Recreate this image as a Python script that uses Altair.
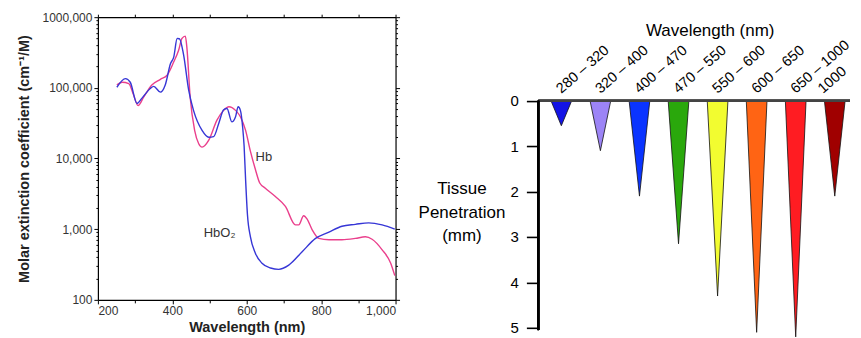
import altair as alt
import pandas as pd

# ---------------- Left panel data: molar extinction coefficient ----------------
hbo2_nm = [251, 274, 287, 305, 318, 341, 350, 368, 381, 395, 404, 413, 419, 430, 444,
           457, 480, 498, 511, 525, 538, 547, 560, 570, 577, 583, 589, 593, 597, 602,
           610, 623, 641, 664, 686, 713, 749, 785, 821, 856, 892, 928, 964, 998]
hbo2_eps = [102000, 135000, 120000, 60000, 71000, 98000, 105000, 87000, 110000, 219000,
            275000, 500000, 495000, 300000, 93000, 48000, 25000, 20000, 20400, 31600,
            49000, 51000, 33000, 39000, 54000, 48000, 28000, 15000, 5000, 1600,
            780, 460, 330, 282, 270, 310, 480, 740, 910, 1100, 1170, 1230, 1150, 1000]

hb_nm = [251, 265, 283, 296, 308, 323, 345, 368, 386, 404, 417, 426, 435, 439, 448,
         460, 471, 480, 498, 520, 538, 552, 570, 583, 597, 610, 623, 635, 650, 677,
         704, 731, 740, 753, 762, 776, 794, 821, 856, 892, 919, 937, 964, 987, 998]
hb_eps = [110000, 120000, 115000, 79000, 56000, 74000, 110000, 132000, 151000, 234000,
          340000, 500000, 540000, 380000, 74000, 25000, 16200, 14500, 18200, 35000,
          48000, 54000, 48000, 39000, 25000, 12600, 7100, 4500, 3800, 2900,
          2100, 1150, 1150, 1550, 1400, 980, 740, 710, 710, 740, 780, 720, 510, 330, 220]

curve_labels = ["Hb", "HbO₂"]
curve_label_nm = [646, 527]
curve_label_eps = [10500, 890]

# ---------------- Right panel data: tissue penetration ----------------
ranges = ["280 – 320", "320 – 400", "400 – 470", "470 – 550",
          "550 – 600", "600 – 650", "650 – 1000", "1000 – 1400"]
depths = [0.55, 1.1, 2.1, 3.15, 4.3, 5.1, 5.2, 2.1]
tri_colors = ["#1414e6", "#9c84f6", "#0a34ff", "#2aa80c",
              "#f2fc30", "#ff6414", "#ff1c22", "#a00000"]
depth_ticks = [0, 1, 2, 3, 4, 5]

FONT = "Liberation Sans"

# ---------------- Left panel ----------------
curves = pd.concat([
    pd.DataFrame({"nm": hb_nm, "eps": hb_eps, "species": "Hb"}),
    pd.DataFrame({"nm": hbo2_nm, "eps": hbo2_eps, "species": "HbO2"}),
])
ann = pd.DataFrame({"label": curve_labels, "nm": curve_label_nm, "eps": curve_label_eps})

xs = alt.Scale(domain=[200, 1000], nice=False, zero=False)
ys = alt.Scale(type="log", domain=[100, 1000000], nice=False)

x_vals = list(range(200, 1001, 100))
y_vals = [m * 10 ** k for k in range(2, 6) for m in range(1, 10)] + [1000000]
is_decade = "abs(log(datum.value)/LN10 - round(log(datum.value)/LN10)) < 1e-6"

ax_common = dict(domainColor="black", tickColor="black", domainWidth=1.2, tickWidth=1,
                 labelFont=FONT, labelFontSize=12, labelColor="#333",
                 titleFont=FONT, titleFontWeight="bold", titleFontSize=14.5, titleColor="#222")

x_axis = alt.Axis(values=x_vals, labelExpr="datum.value % 200 == 0 ? format(datum.value, ',') : ''",
                  tickSize={"condition": {"test": "datum.value % 200 == 0", "value": 4}, "value": 3},
                  labelPadding=2, title="Wavelength (nm)", titlePadding=4, grid=False, **ax_common)
y_axis = alt.Axis(values=y_vals,
                  labelExpr=f"{is_decade} ? (datum.value == 1000000 ? '1000,000' : format(datum.value, ',')) : ''",
                  tickSize={"condition": {"test": is_decade, "value": 4}, "value": 2},
                  labelPadding=2, title="Molar extinction coefficient (cm⁻¹/M)", titlePadding=10,
                  grid=False, **ax_common)
x_axis_top = alt.Axis(orient="top", values=x_vals, labels=False, title=None, grid=False,
                      tickSize=3, domainColor="black", tickColor="black", domainWidth=1.2)
y_axis_right = alt.Axis(orient="right", values=y_vals, labels=False, title=None, grid=False,
                        tickSize={"condition": {"test": is_decade, "value": 4}, "value": 2},
                        domainColor="black", tickColor="black", domainWidth=1.2)

lines = alt.Chart(curves).mark_line(strokeWidth=1.4, interpolate="monotone").encode(
    x=alt.X("nm:Q", scale=xs, axis=x_axis),
    y=alt.Y("eps:Q", scale=ys, axis=y_axis),
    color=alt.Color("species:N", scale=alt.Scale(domain=["Hb", "HbO2"], range=["#ea3f8c", "#3636d6"]),
                    legend=None),
    detail="species:N",
)
frame = alt.Chart(curves).mark_line(opacity=0).encode(
    x=alt.X("nm:Q", scale=xs, axis=x_axis_top),
    y=alt.Y("eps:Q", scale=ys, axis=y_axis_right),
    detail="species:N",
)
labels = alt.Chart(ann).mark_text(font=FONT, fontSize=13, color="#333").encode(
    x=alt.X("nm:Q", scale=xs, axis=None),
    y=alt.Y("eps:Q", scale=ys, axis=None),
    text="label:N",
)
left = alt.layer(lines, frame, labels).resolve_axis(x="independent", y="independent").properties(
    width=298, height=283)

# ---------------- Right panel ----------------
HW = 0.265  # half width of triangle top, in category units
rows = []
for i, (r, d) in enumerate(zip(ranges, depths)):
    rows.append({"range": r, "d": 0.0, "xl": i - HW, "xr": i + HW})
    rows.append({"range": r, "d": d, "xl": float(i), "xr": float(i)})
tri_df = pd.DataFrame(rows)
lab_df = pd.DataFrame({"range": ranges, "idx": list(range(len(ranges)))})

W_R, H_R = 312, 311
X0, X1 = -0.588, 7.39
xr = alt.Scale(domain=[X0, X1], nice=False, zero=False)
yr = alt.Scale(domain=[-1.84, 5.0], nice=False, zero=False, reverse=True)

y_axis_r = alt.Axis(values=depth_ticks, domain=False, tickSize=12, tickWidth=1.6, tickColor="black",
                    labelFont=FONT, labelFontSize=15, labelColor="black", labelPadding=8, grid=False,
                    title=["Tissue", "Penetration", "(mm)"], titleAngle=0, titleAlign="center",
                    titleBaseline="middle", titleX=-77, titleY=172, titleFont=FONT, titleFontSize=17,
                    titleFontWeight="normal", titleColor="black", titleLineHeight=23.5)

tri = alt.Chart(tri_df).mark_area(orient="horizontal", stroke="#111", strokeWidth=0.8).encode(
    y=alt.Y("d:Q", scale=yr, axis=y_axis_r),
    x=alt.X("xl:Q", scale=xr, axis=None),
    x2="xr:Q",
    fill=alt.Fill("range:N", scale=alt.Scale(domain=ranges, range=tri_colors), legend=None),
    detail="range:N",
)
vline = alt.Chart(lab_df).mark_rule(color="black", strokeWidth=1.8).encode(
    x=alt.value(0),
    y=alt.Y(datum=0, scale=yr),
    y2=alt.Y2(datum=5.05),
)
hline = alt.Chart(lab_df).mark_rule(color="#444", strokeWidth=2).encode(
    x=alt.value(0), x2=alt.value(W_R),
    y=alt.Y(datum=0, scale=yr),
)
head = alt.Chart(lab_df).transform_filter("datum.idx < 7").transform_calculate(
    lx="datum.idx + 0.05").mark_text(font=FONT, fontSize=14.5, angle=319, align="left",
                                     baseline="bottom", color="black").encode(
    x=alt.X("lx:Q", scale=xr, axis=None),
    y=alt.Y(datum=-0.1, scale=yr),
    text="range:N",
)
head_last = alt.Chart(lab_df).transform_filter("datum.idx >= 7").transform_calculate(
    lx="datum.idx - 0.25").mark_text(font=FONT, fontSize=14.5, angle=319, align="left",
                                     baseline="bottom", color="black", limit=33,
                                     ellipsis="\u200b").encode(
    x=alt.X("lx:Q", scale=xr, axis=None),
    y=alt.Y(datum=-0.1, scale=yr),
    text="range:N",
)
wl_title = alt.Chart(pd.DataFrame({"t": ["Wavelength (nm)"]})).mark_text(
    font=FONT, fontSize=17, color="black", baseline="middle").encode(
    x=alt.value(172), y=alt.value(14), text="t:N")

right = alt.layer(tri, hline, vline, head, head_last, wl_title).properties(width=W_R, height=H_R)

chart = alt.hconcat(left, right, spacing=17).configure_view(stroke=None).properties(
    padding={"left": 8, "top": 3, "right": 0, "bottom": 0})

chart.save("out.html", embed_options={"renderer": "svg", "actions": False})
